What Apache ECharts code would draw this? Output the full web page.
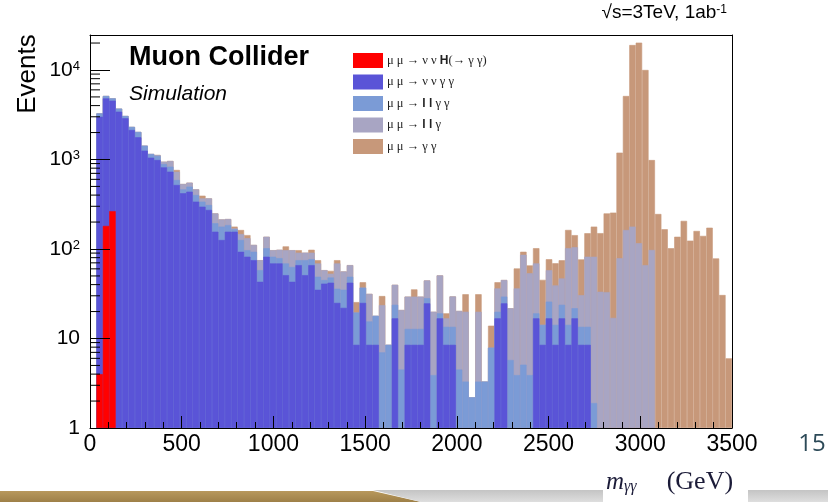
<!DOCTYPE html>
<html><head><meta charset="utf-8">
<script src="https://cdn.jsdelivr.net/npm/echarts@6/dist/echarts.min.js"></script>
<style>html,body{margin:0;padding:0;background:#fff}#c{width:828px;height:502px}</style>
</head><body><div id="c"></div>
<script>
// ---- data: 100 bins of 35 GeV from 0 to 3500 GeV ----
const binWidth = 35;
const categories = Array.from({length: 100}, (_, i) => String(i * binWidth + binWidth / 2));
const xTickLabels = [0, 500, 1000, 1500, 2000, 2500, 3000, 3500];
const yTickLabels = [1, 10, 100, 1000, 10000];

// mu mu -> nu nu H(-> gamma gamma)
const higgs = [0,4,181,265,0,0,0,0,0,0, 0,0,0,0,0,0,0,0,0,0, 0,0,0,0,0,0,0,0,0,0, 0,0,0,0,0,0,0,0,0,0,
  0,0,0,0,0,0,0,0,0,0, 0,0,0,0,0,0,0,0,0,0, 0,0,0,0,0,0,0,0,0,0, 0,0,0,0,0,0,0,0,0,0,
  0,0,0,0,0,0,0,0,0,0, 0,0,0,0,0,0,0,0,0,0];
// mu mu -> nu nu gamma gamma
const nunuAA = [0,3000,4640,4275,3420,2885,2135,1770,1256,1048, 986,817,731,519,419,437,338,297,273,156,
  126,156,156,93,82,75,43,82,69,69, 51,43,66,51,66,35,41,42,25,22, 42,8.5,25,8.5,8.5,0,0,16.8,0,8.5,
  8.5,8.5,24.7,0,16.8,8.5,8.5,0,0,0, 0,0,0,16.8,24.7,0,0,0,0,16.8, 8.5,16.8,8.5,16.8,8.5,16.8,8.5,8.5,0,0,
  0,0,0,0,0,0,0,0,0,0, 0,0,0,0,0,0,0,0,0,0];
// mu mu -> l l gamma gamma
const llAA = [0,270,300,280,280,175,175,260,172,104, 110,74,100,71,45,61,63,41,37,38,
  52,29,10,33,15,18,15,20,13,10, 18,20,9,24,11,14,4,6,11,13, 7,11,12,7,9.4,7,8.5,7,4.5,4.3,
  4.3,4.3,3.5,3.9,2.3,5,5,4.5,3.3,2.2, 3.3,3.3,7.9,3.1,4.7,5.75,3.9,5.1,3.9,2.3, 5.7,9,5.7,7,5.7,5,5,5,1.9,0,
  0,0,0,0,0,0,0,0,0,0, 0,0,0,0,0,0,0,0,0,0];
// mu mu -> l l gamma
const llA = [0,0,0,0,0,0,0,0,0,0, 26,54,131,141,68,53,63,30,58,56,
  36,31,4,21,35,18,17,35,15,19, 28,34,16,16,14,20,13,5,33,21, 17,0,0,16,0,16.6,0,16,16.3,16.6,
  16.6,16.6,16.3,16,31.6,3.3,16,15.8,16.6,0, 16.6,0,0,16.4,15.6,16,32.4,81,49.6,50, 0,32,25,23,88,83,17,68.5,80,33.3,
  33,17,79,163,178,116,66,97.5,0,0, 0,0,0,0,0,0,0,0,0,0];
// mu mu -> gamma gamma
const AA = [0,0,0,0,0,0,0,0,0,0, 0,0,0,33,0,0,0,26,0,0,
  0,0,8,16,11,0,0,0,0,0, 10,0,6,0,7,6,0,4,6,0, 0,6,5.5,0,0,6.2,0,0,0,0,
  6,0,0,0,0,2.3,0,0,11.3,0, 11.3,0,6,6.2,0,0,24.3,7,12,33, 31,19,30,28,61,38,46,68,96,117,
  217,238,1113,4957,18822,20084,9934,888,246,166, 102,137,206,124,159,140,173,78.5,30.6,6.0];

const processes = [
  {key: 'H',    data: higgs,  color: '#ff0000', label: '{g|μ μ → ν ν }{b|H}{g|(→ γ γ)}'},
  {key: 'vvAA', data: nunuAA, color: '#5a54d7', label: '{g|μ μ → ν ν γ γ}'},
  {key: 'llAA', data: llAA,   color: '#7b9bd6', label: '{g|μ μ → }{b|l l}{g| γ γ}'},
  {key: 'llA',  data: llA,    color: '#a8a5c3', label: '{g|μ μ → }{b|l l}{g| γ}'},
  {key: 'AA',   data: AA,     color: '#c7987a', label: '{g|μ μ → γ γ}'}
];

// cumulative (stacked) heights, bottom to top
let run = new Array(categories.length).fill(0);
const cumulative = processes.map(p => { run = run.map((v, i) => v + p.data[i]); return run.slice(); });

const barSeries = processes.map((p, k) => ({
  name: p.key, type: 'bar', xAxisIndex: 0, yAxisIndex: 0,
  data: cumulative[k].map(v => v > 0 ? v : null),
  barWidth: '100%', barGap: '-100%', barCategoryGap: '0%',
  itemStyle: {color: p.color, borderColor: p.color, borderWidth: 0.6},
  emphasis: {disabled: true}, animation: false
})).reverse();   // draw the full stack behind, lowest component in front

const yMinor = [];
for (let d = 1; d <= 1000; d *= 10) for (let m = 2; m <= 9; m++) yMinor.push(m * d);
yMinor.push(20000);

const tickFont = "'Liberation Sans',Arial,sans-serif";
const chart = echarts.init(document.getElementById('c'), null, {renderer: 'canvas'});
chart.setOption({
  animation: false,
  backgroundColor: '#ffffff',
  grid: {left: 90, right: 96, top: 35, bottom: 74, show: false},
  legend: {
    orient: 'vertical', left: 353, top: 53, padding: 0,
    itemWidth: 28, itemHeight: 13, itemGap: 6.5, icon: 'rect', selectedMode: false,
    data: processes.map(p => p.key),
    formatter: name => processes.find(p => p.key === name).label,
    textStyle: {rich: {
      g: {fontFamily: "'Liberation Serif','DejaVu Serif',serif", fontSize: 12.5, color: '#222'},
      b: {fontFamily: "'Liberation Sans',Arial,sans-serif", fontWeight: 'bold', fontSize: 12, color: '#222'}
    }}
  },
  xAxis: [
    {type: 'category', data: categories, show: false, boundaryGap: true},
    {type: 'value', min: 0, max: 3500, interval: 500, position: 'bottom', z: 5,
     axisLine: {show: true, onZero: false, lineStyle: {color: '#000', width: 1}},
     axisTick: {show: true, inside: true, length: 12, lineStyle: {color: '#000'}},
     minorTick: {show: true, splitNumber: 5, length: 6, lineStyle: {color: '#000'}},
     splitLine: {show: false},
     axisLabel: {show: true, margin: 5, color: '#000', fontFamily: tickFont, fontSize: 23,
       showMinLabel: true, showMaxLabel: true,
       formatter: v => xTickLabels.includes(v) ? String(v) : ''}},
    {type: 'value', min: 0, max: 3500, position: 'top', z: 5,
     axisLine: {show: true, onZero: false, lineStyle: {color: '#000', width: 1}},
     axisTick: {show: false}, axisLabel: {show: false}, splitLine: {show: false}}
  ],
  yAxis: [
    {type: 'log', logBase: 10, min: 1, max: 24600, z: 5,
     axisLine: {show: true, onZero: false, lineStyle: {color: '#000', width: 1}},
     axisTick: {show: true, inside: true, length: 20, lineStyle: {color: '#000'}},
     splitLine: {show: false},
     axisLabel: {margin: 10, color: '#000', fontFamily: tickFont, fontSize: 21,
       formatter: v => {
         const e = Math.round(Math.log10(v));
         if (Math.abs(Math.pow(10, e) - v) > 1e-6 * v) return '';
         if (!yTickLabels.includes(Math.pow(10, e))) return '';
         if (e === 0) return '1';
         if (e === 1) return '10';
         return '{b|10}{s|' + e + '}';
       },
       rich: {b: {fontFamily: tickFont, fontSize: 21, color: '#000'},
              s: {fontFamily: tickFont, fontSize: 13, color: '#000', verticalAlign: 'top'}}}},
    {type: 'log', logBase: 10, min: 1, max: 24600, position: 'right', z: 5,
     axisLine: {show: true, onZero: false, lineStyle: {color: '#000', width: 1}},
     axisTick: {show: false}, axisLabel: {show: false}, splitLine: {show: false}}
  ],
  series: barSeries.concat([{
    type: 'custom', xAxisIndex: 1, yAxisIndex: 0, z: 6, silent: true,
    data: yMinor.map(v => [0, v]),
    renderItem: (params, api) => {
      const p = api.coord([0, api.value(1)]);
      return {type: 'line', shape: {x1: p[0], y1: p[1], x2: p[0] + 10, y2: p[1]},
              style: {stroke: '#000', lineWidth: 1}};
    }
  }]),
  graphic: [
    {type: 'text', x: 28, y: 74, rotation: Math.PI / 2,
     style: {text: 'Events', font: "26px 'Liberation Sans', Arial, sans-serif", fill: '#000',
             textAlign: 'center', textVerticalAlign: 'middle', align: 'center', verticalAlign: 'middle'}},
    {type: 'text', x: 129, y: 58,
     style: {text: 'Muon Collider', font: "bold 27px 'Liberation Sans', Arial, sans-serif", fill: '#000',
             textVerticalAlign: 'middle', verticalAlign: 'middle'}},
    {type: 'text', x: 129, y: 94,
     style: {text: 'Simulation', font: "italic 21px 'Liberation Sans', Arial, sans-serif", fill: '#000',
             textVerticalAlign: 'middle', verticalAlign: 'middle'}},
    {type: 'text', x: 727, y: 13,
     style: {text: '{n|√s=3TeV, 1ab}{s|-1}', textAlign: 'right', align: 'right',
             textVerticalAlign: 'middle', verticalAlign: 'middle',
             rich: {n: {font: "19px 'Liberation Sans', Arial, sans-serif", fill: '#000', color: '#000'},
                    s: {font: "12px 'Liberation Sans', Arial, sans-serif", fill: '#000', color: '#000', verticalAlign: 'top'}}}},
    {type: 'text', x: 812, y: 444,
     style: {text: '15', font: "24px 'Open Sans', sans-serif", fill: '#2d4a58',
             textAlign: 'center', align: 'center', textVerticalAlign: 'middle', verticalAlign: 'middle'}},
    {type: 'polygon', z: 1, shape: {points: [[0, 491], [373, 491], [421, 502], [0, 502]]},
     style: {fill: new echarts.graphic.LinearGradient(0, 0, 0, 1, [{offset: 0, color: '#b8985c'}, {offset: 1, color: '#9e8048'}])}},
    {type: 'polygon', z: 1, shape: {points: [[373, 490], [603, 490], [603, 502], [421, 502]]},
     style: {fill: new echarts.graphic.LinearGradient(0, 0, 0, 1, [{offset: 0, color: '#c4c4c4'}, {offset: 1, color: '#dedede'}])}},
    {type: 'rect', z: 1, shape: {x: 748, y: 490, width: 80, height: 12},
     style: {fill: new echarts.graphic.LinearGradient(0, 0, 0, 1, [{offset: 0, color: '#c4c4c4'}, {offset: 1, color: '#dedede'}])}},
    {type: 'text', x: 606, y: 482,
     style: {text: '{m|m}{g|γγ}{p|(GeV)}', textVerticalAlign: 'middle', verticalAlign: 'middle',
             rich: {m: {font: "italic 25px 'Liberation Serif', serif", fill: '#1b1b38', color: '#1b1b38'},
                    g: {font: "italic 16px 'Liberation Serif', serif", fill: '#1b1b38', color: '#1b1b38', verticalAlign: 'bottom'},
                    p: {font: "26px 'Liberation Serif', serif", fill: '#1b1b38', color: '#1b1b38', padding: [0, 0, 0, 30]}}}}
  ]
});
</script>
</body></html>
